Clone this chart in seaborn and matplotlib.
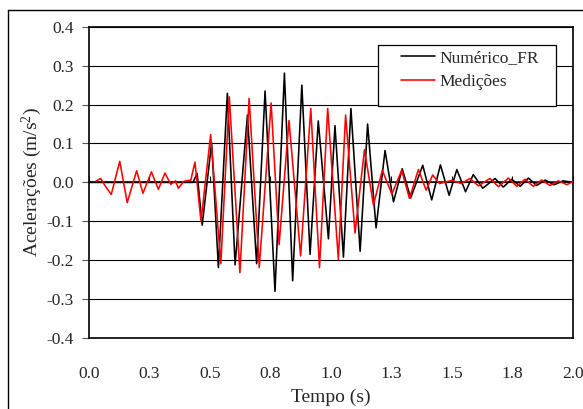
import numpy as np
import pandas as pd
import matplotlib
matplotlib.use("Agg")
import matplotlib.pyplot as plt
import seaborn as sns
from matplotlib.lines import Line2D
from matplotlib.patches import Rectangle

# ---------------- data ----------------
t_num = [0.0, 0.43, 0.447, 0.468, 0.507, 0.535, 0.572, 0.604, 0.655, 0.693,
         0.728, 0.769, 0.808, 0.842, 0.880, 0.914, 0.948, 0.990, 1.017, 1.052,
         1.083, 1.121, 1.152, 1.187, 1.224, 1.259, 1.295, 1.330, 1.380, 1.417,
         1.453, 1.489, 1.521, 1.557, 1.589, 1.628, 1.679, 1.713, 1.748, 1.783,
         1.817, 1.851, 1.886, 1.923, 1.961, 2.0]
a_num = [0.0, 0.0, 0.023, -0.110, 0.102, -0.219, 0.229, -0.212, 0.173, -0.209,
         0.235, -0.280, 0.281, -0.253, 0.250, -0.185, 0.158, -0.145, 0.146, -0.192,
         0.190, -0.177, 0.150, -0.117, 0.082, -0.050, 0.035, -0.040, 0.044, -0.045,
         0.045, -0.033, 0.033, -0.024, 0.020, -0.015, 0.010, -0.012, 0.008, -0.010,
         0.011, -0.008, 0.006, -0.006, 0.004, 0.0]

t_med = [0.028, 0.048, 0.069, 0.092, 0.127, 0.158, 0.197, 0.223, 0.258, 0.287,
         0.314, 0.338, 0.358, 0.369, 0.393, 0.421, 0.438, 0.463, 0.503, 0.545,
         0.580, 0.624, 0.662, 0.704, 0.753, 0.786, 0.827, 0.875, 0.917, 0.953,
         0.987, 1.031, 1.061, 1.100, 1.139, 1.176, 1.213, 1.252, 1.293, 1.325,
         1.362, 1.394, 1.421, 1.449, 1.500, 1.540, 1.575, 1.610, 1.658, 1.693,
         1.734, 1.769, 1.803, 1.837, 1.872, 1.906, 1.941, 1.976, 2.0]
a_med = [0.003, 0.010, -0.011, -0.031, 0.054, -0.052, 0.030, -0.028, 0.027, -0.018,
         0.024, -0.005, 0.004, -0.015, 0.003, 0.006, 0.052, -0.100, 0.123, -0.209,
         0.220, -0.232, 0.216, -0.219, 0.204, -0.160, 0.159, -0.189, 0.190, -0.219,
         0.190, -0.198, 0.173, -0.130, 0.084, -0.058, 0.031, -0.030, 0.031, -0.041,
         0.033, -0.020, 0.019, -0.003, 0.005, -0.003, 0.010, -0.009, 0.010, -0.011,
         0.011, -0.010, 0.008, -0.010, 0.006, -0.008, 0.004, -0.006, 0.002]

series_names = ["Numérico_FR", "Medições"]
x_ticks = [0.0, 0.25, 0.5, 0.75, 1.0, 1.25, 1.5, 1.75, 2.0]
x_tick_labels = ["0.0", "0.3", "0.5", "0.8", "1.0", "1.3", "1.5", "1.8", "2.0"]
y_ticks = [-0.4, -0.3, -0.2, -0.1, 0.0, 0.1, 0.2, 0.3, 0.4]
y_tick_labels = ["-0.4", "-0.3", "-0.2", "-0.1", "0.0", "0.1", "0.2", "0.3", "0.4"]

df = pd.concat([
    pd.DataFrame({"t": t_num, "a": a_num, "serie": series_names[0]}),
    pd.DataFrame({"t": t_med, "a": a_med, "serie": series_names[1]}),
], ignore_index=True)

# ---------------- style ----------------
sns.set_theme(style="white")
plt.rcParams["font.family"] = ["Liberation Serif", "DejaVu Serif"]
plt.rcParams["mathtext.fontset"] = "custom"
plt.rcParams["mathtext.rm"] = "Liberation Serif"
plt.rcParams["mathtext.it"] = "Liberation Serif:italic"
FS = 12.5
FS_LAB = 14

fig = plt.figure(figsize=(5.83, 4.09), dpi=100)
ax = fig.add_axes([0.1527, 0.1736, 0.9823 - 0.1527, 0.9345 - 0.1736])

sns.lineplot(data=df, x="t", y="a", hue="serie", sort=False, estimator=None,
             palette={series_names[0]: "black", series_names[1]: "#ff0000"},
             linewidth=1.15, ax=ax, legend=False, zorder=3)

ax.set_xlim(0, 2.0)
ax.set_ylim(-0.4, 0.4)
ax.set_yticks(y_ticks)
ax.set_yticklabels(y_tick_labels, fontsize=FS)
ax.set_xticks(x_ticks)
ax.set_xticklabels(x_tick_labels, fontsize=FS)
ax.tick_params(axis="x", length=0, pad=20)
ax.tick_params(axis="y", length=5, width=0.8, color="#555555", direction="out", pad=6, left=True)
ax.yaxis.grid(True, color="black", linewidth=0.8)
ax.xaxis.grid(False)
for s in ax.spines.values():
    s.set_color("black")
    s.set_linewidth(1.2)

# horizontal axis drawn at y = 0 with its tick marks
sec = ax.secondary_xaxis(0.5)
sec.set_xticks(x_ticks)
sec.xaxis.set_ticklabels([])
sec.tick_params(axis="x", direction="out", length=4, width=0.8, color="black",
                labelbottom=False, labeltop=False)
sec.spines["bottom"].set_linewidth(1.0)
sec.spines["bottom"].set_color("black")

ax.set_xlabel("Tempo (s)", fontsize=FS_LAB, labelpad=5)
ax.set_ylabel("Acelerações (m/s$^{2}$)", fontsize=FS_LAB, labelpad=1.5)

# legend
ax.add_patch(Rectangle((0.597, 0.746), 0.368, 0.197, transform=ax.transAxes,
                       facecolor="white", edgecolor="black", linewidth=0.9, zorder=4))
handles = [Line2D([], [], color="black", lw=1.15), Line2D([], [], color="#ff0000", lw=1.15)]
leg = ax.legend(handles, series_names, loc="upper left", bbox_to_anchor=(0.645, 0.925),
                frameon=False, fontsize=FS, handlelength=1.95, handletextpad=0.25,
                borderpad=0, borderaxespad=0, labelspacing=0.45)
leg.set_zorder(5)

# outer chart-area frame (left and top edges visible)
fig.add_artist(Line2D([8 / 583, 8 / 583], [0, 1 - 10 / 409], transform=fig.transFigure,
                      color="black", lw=1.0))
fig.add_artist(Line2D([8 / 583, 1], [1 - 10 / 409, 1 - 10 / 409], transform=fig.transFigure,
                      color="black", lw=1.0))

fig.savefig("out.png", dpi=100)
